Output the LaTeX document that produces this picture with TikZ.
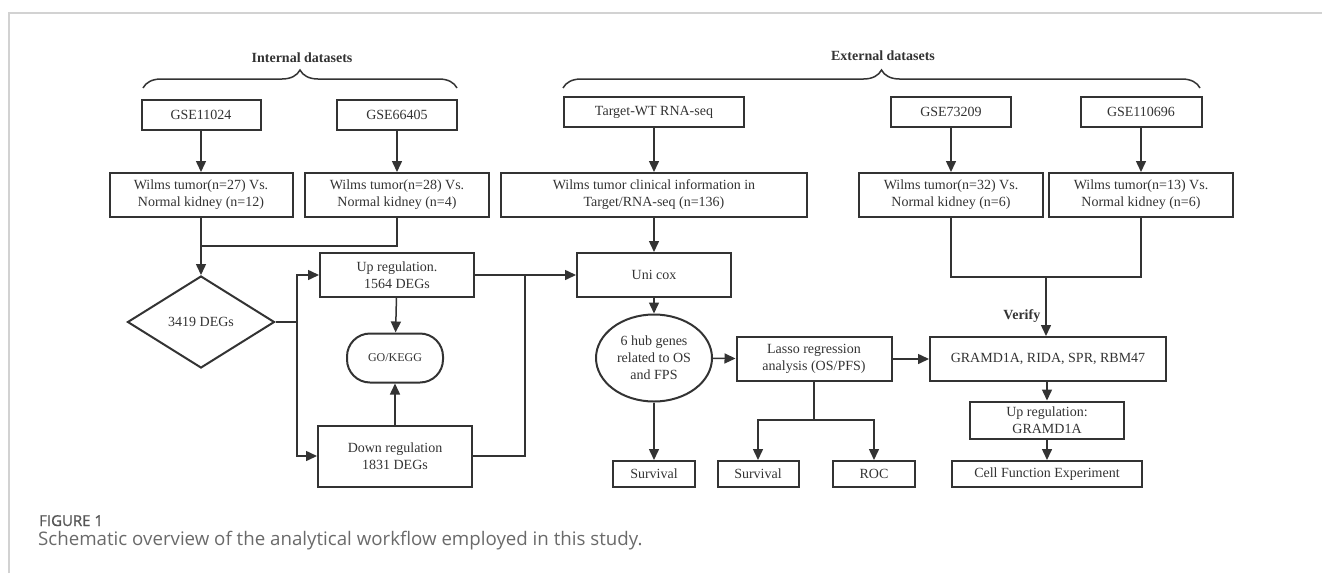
\documentclass[tikz,border=0pt]{standalone}
\usepackage{fontspec}
\setmainfont{Liberation Serif}
\newfontfamily\capfont{Open Sans}
\newfontfamily\capheadfont{Open Sans}[FakeBold=0.9]
\usetikzlibrary{arrows.meta,shapes.geometric,decorations.pathreplacing}

\definecolor{inkgray}{HTML}{333333}
\definecolor{framegray}{HTML}{D2D2D2}
\definecolor{capgray}{HTML}{6A6A6A}

\tikzset{
  stepbox/.style={draw=inkgray, line width=2pt, text=inkgray, align=center,
    inner sep=0pt, font=\fontsize{14pt}{17pt}\selectfont},
  flowline/.style={draw=inkgray, line width=1.5pt},
  flowarrow/.style={flowline, -{Triangle[length=11pt,width=10pt]}},
  headbrace/.style={draw=inkgray, line width=1.5pt, decorate,
    decoration={brace, amplitude=18pt}},
  headtext/.style={text=inkgray, font=\fontsize{14pt}{17pt}\selectfont\bfseries},
}

\begin{document}
\begin{tikzpicture}[x=1pt, y=-1pt]
\useasboundingbox (0,0) rectangle (1322,573);

% Page frame
\draw[framegray, line width=1.5pt] (9,573) -- (9,13) -- (1322,13);

% Braces and group titles
\draw[headbrace] (143,88) -- (457,88);
\node[headtext] (inttitle) at (302,58) {Internal datasets};
\draw[headbrace] (563,88) -- (1200,88);
\node[headtext] (exttitle) at (883,56) {External datasets};

% Internal datasets
\node[stepbox, minimum width=119pt, minimum height=30pt] (gsea) at (201,115) {GSE11024};
\node[stepbox, minimum width=120pt, minimum height=30pt] (gseb) at (397,115) {GSE66405};
\node[stepbox, minimum width=183pt, minimum height=44pt] (wilmsa) at (201,195) {Wilms tumor(n=27) Vs.\\Normal kidney (n=12)};
\node[stepbox, minimum width=184pt, minimum height=44pt] (wilmsb) at (397,195) {Wilms tumor(n=28) Vs.\\Normal kidney (n=4)};

% TARGET data
\node[stepbox, minimum width=180pt, minimum height=30pt] (target) at (654,112) {Target-WT RNA-seq};
\node[stepbox, minimum width=306pt, minimum height=44pt] (clinical) at (654,195) {Wilms tumor clinical information in\\Target/RNA-seq (n=136)};

% External datasets
\node[stepbox, minimum width=120pt, minimum height=30pt] (gsec) at (951,112) {GSE73209};
\node[stepbox, minimum width=121pt, minimum height=30pt] (gsed) at (1141,112) {GSE110696};
\node[stepbox, minimum width=184pt, minimum height=44pt] (wilmsc) at (951,195) {Wilms tumor(n=32) Vs.\\Normal kidney (n=6)};
\node[stepbox, minimum width=184pt, minimum height=44pt] (wilmsd) at (1141,195) {Wilms tumor(n=13) Vs.\\Normal kidney (n=6)};

% DEG analysis
\node[stepbox, diamond, minimum width=147pt, minimum height=92pt] (degs) at (201,322) {3419 DEGs};
\node[stepbox, minimum width=154pt, minimum height=44pt] (up) at (397,275) {Up regulation.\\1564 DEGs};
\node[stepbox, rounded corners=23pt, minimum width=96pt, minimum height=49pt,
  font=\fontsize{12pt}{14pt}\selectfont] (gokegg) at (395,358) {GO/KEGG};
\node[stepbox, minimum width=154pt, minimum height=61pt] (down) at (395,456) {Down regulation\\1831 DEGs};

% Prognostic model
\node[stepbox, minimum width=154pt, minimum height=44pt] (unicox) at (654,275) {Uni cox};
\node[stepbox, ellipse, minimum width=116pt, minimum height=87pt] (hub) at (654,358) {6 hub genes\\related to OS\\and FPS};
\node[stepbox, minimum width=155pt, minimum height=44pt] (lasso) at (814,359) {Lasso regression\\analysis (OS/PFS)};
\node[stepbox, minimum width=82pt, minimum height=26pt] (survhub) at (654,474) {Survival};
\node[stepbox, minimum width=81pt, minimum height=26pt] (survlasso) at (758,474) {Survival};
\node[stepbox, minimum width=82pt, minimum height=26pt] (roc) at (874,474) {ROC};

% Validation
\node[stepbox, minimum width=236pt, minimum height=44pt] (gramd) at (1048,359) {GRAMD1A, RIDA, SPR, RBM47};
\node[stepbox, minimum width=154pt, minimum height=37pt] (upgramd) at (1047,420) {Up regulation:\\GRAMD1A};
\node[stepbox, minimum width=190pt, minimum height=26pt] (cellexp) at (1047,474) {Cell Function Experiment};

% Junction points
\coordinate (joinint) at (201,246);
\coordinate (splitdeg) at (297,322);
\coordinate (joinreg) at (525,275);
\coordinate (joinext) at (1046,277);
\coordinate (splitlasso) at (814,420);

% Connectors
\draw[flowarrow] (gsea) -- (wilmsa);
\draw[flowarrow] (gseb) -- (wilmsb);
\draw[flowarrow] (target) -- (clinical);
\draw[flowarrow] (gsec) -- (wilmsc);
\draw[flowarrow] (gsed) -- (wilmsd);

\draw[flowline] (wilmsb.south) |- (joinint);
\draw[flowarrow] (wilmsa) -- (degs);
\draw[flowline] (degs.east) -- (splitdeg);
\draw[flowarrow] (splitdeg) |- (up.west);
\draw[flowarrow] (splitdeg) |- (down.west);
\draw[flowarrow] (up) -- (gokegg);
\draw[flowarrow] (down) -- (gokegg);

\draw[flowline] (up.east) -- (joinreg);
\draw[flowline] (down.east) -| (joinreg);
\draw[flowarrow] (joinreg) -- (unicox.west);
\draw[flowarrow] (clinical) -- (unicox);
\draw[flowarrow] (unicox) -- (hub);
\draw[flowarrow] (hub) -- (lasso);
\draw[flowarrow] (hub) -- (survhub);
\draw[flowline] (lasso) -- (splitlasso);
\draw[flowarrow] (splitlasso) -| (survlasso);
\draw[flowarrow] (splitlasso) -| (roc);
\draw[flowarrow] (lasso) -- (gramd);

\draw[flowline] (wilmsc.south) |- (joinext);
\draw[flowline] (wilmsd.south) |- (joinext);
\draw[flowarrow] (joinext) -- node[headtext, pos=0.67, left, inner sep=5pt] {Verify} (gramd.north -| joinext);
\draw[flowarrow] (gramd.south -| upgramd) -- (upgramd);
\draw[flowarrow] (upgramd) -- (cellexp);

% Caption
\node[anchor=base west, inner sep=0pt, text=capgray!80!black, font=\capheadfont\fontsize{15pt}{17pt}\selectfont] (figlabel) at (39,526) {FIGURE 1};
\node[anchor=base west, inner sep=0pt, text=capgray, font=\capfont\fontsize{18.7pt}{22pt}\selectfont] (figcaption) at (38,545) {Schematic overview of the analytical workflow employed in this study.};
\end{tikzpicture}
\end{document}
